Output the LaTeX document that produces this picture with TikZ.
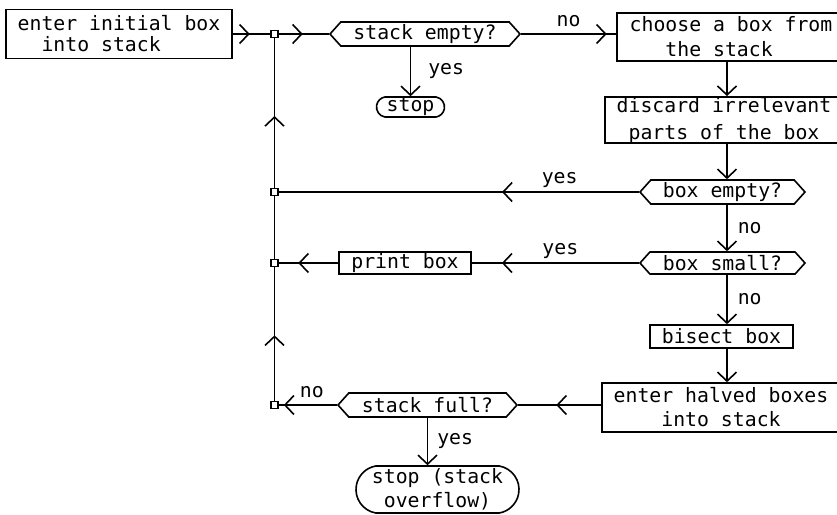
\documentclass[tikz,border=0pt]{standalone}
\usepackage{fontspec}
\setmonofont{DejaVu Sans Mono}
\usetikzlibrary{arrows.meta,shapes.misc,shapes.symbols,decorations.markings,positioning}

\tikzset{
  chev/.tip={Straight Barb[length=4.5pt,width=9.5pt]},
  arr/.style={-chev},
  midtip/.style={postaction={decorate},
    decoration={markings, mark=at position #1 with {\arrow{chev}}}},
  txt/.style={font=\ttfamily\fontsize{9.9}{12}\selectfont},
  proc/.style={txt, draw, inner sep=0pt, align=center},
  decide/.style={txt, draw, inner sep=0pt, signal, signal to=west and east,
    signal pointer angle=96},
  terminal/.style={txt, draw, inner sep=0pt, align=center, rounded rectangle,
    rounded rectangle arc length=160},
  junc/.style={draw, fill=white, line width=0.6pt, minimum size=3.5pt, inner sep=0pt},
  lbl/.style={txt, inner sep=1pt},
}

\begin{document}
\begin{tikzpicture}[x=0.5pt, y=-0.5pt, line width=0.8pt]

  % --- page ---
  \fill[white] (0,0) rectangle (837,515);
  \useasboundingbox (0,0) rectangle (837,515);

  % --- boxes ---
  \node[proc, align=left, minimum width=113pt, minimum height=24.5pt] (init) at (119,34)
    {enter initial box\\[-1.5pt]\phantom{xx}into stack};
  \node[decide, minimum width=95pt, minimum height=12pt] (sempty) at (425,34) {stack empty?};
  \node[terminal, minimum width=34pt, minimum height=10pt] (stop) at (410.5,107) {stop};
  \node[proc, align=left, minimum width=114pt, minimum height=24pt] (choose) at (731,37)
    {choose a box from\\[0.5pt]\phantom{xxx}the stack};
  \node[proc, minimum width=119pt, minimum height=23pt] (discard) at (724,120)
    {discard irrelevant\\[1.5pt]parts of the box};
  \node[decide, minimum width=82.5pt, minimum height=12pt] (bempty) at (722.5,192) {box empty?};
  \node[decide, minimum width=82.5pt, minimum height=11pt] (bsmall) at (722.5,263) {box small?};
  \node[proc, minimum width=66pt, minimum height=11pt] (print) at (405,263) {print box};
  \node[proc, minimum width=71.5pt, minimum height=11.5pt] (bisect) at (721.5,336.5) {bisect box};
  \node[proc, minimum width=119pt, minimum height=24.5pt] (halved) at (721,407.5)
    {enter halved boxes\\into stack};
  \node[decide, minimum width=89.5pt, minimum height=12pt] (sfull) at (427.5,405) {stack full?};
  \node[terminal, minimum width=81.5pt, minimum height=23.5pt] (sover) at (437.5,489.5)
    {stop (stack\\overflow)};

  % --- junctions on the return line ---
  \node[junc] (j1) at (274.5,34) {};
  \node[junc] (j2) at (274.5,192) {};
  \node[junc] (j3) at (274.5,263) {};
  \node[junc] (j4) at (274.5,405) {};
  \coordinate (spine) at (727,0);

  % --- main path ---
  \draw[midtip=0.45] (init.east) -- (j1);
  \draw[midtip=0.48] (j1) -- (sempty);
  \draw[midtip=0.9] (sempty.east) -- (sempty.east -| choose.west)
    node[lbl, pos=0.5, above=2pt] {no};
  \draw[arr] (stop.north |- sempty.south) -- (stop.north)
    node[lbl, midway, right=7.5pt] {yes};
  \draw[arr] (choose.south -| spine) -- (discard.north -| spine);
  \draw[arr] (discard.south -| spine) -- (bempty.north -| spine);
  \draw[arr] (bempty.south -| spine) -- (bsmall.north -| spine)
    node[lbl, midway, right=4pt] {no};
  \draw[arr] (bsmall.south -| spine) -- (bisect.north -| spine)
    node[lbl, midway, right=4pt] {no};
  \draw[arr] (bisect.south -| spine) -- (halved.north -| spine);

  % --- back to the stack ---
  \draw[midtip=0.38] (bempty.west) -- (j2) node[lbl, pos=0.22, above=1pt] {yes};
  \draw[midtip=0.82] (bsmall.west) -- (print.east) node[lbl, pos=0.47, above=1pt] {yes};
  \draw[midtip=0.67] (print.west) -- (j3);
  \draw[midtip=0.54] (sfull.east -| halved.west) -- (sfull.east);
  \draw[midtip=0.91] (sfull.west) -- (j4) node[lbl, pos=0.43, above=2pt] {no};
  \draw[arr] (sfull.south) -- (sfull.south |- sover.north)
    node[lbl, midway, right=3.5pt] {yes};

  % --- return line ---
  \draw[midtip=0.49] (j4) -- (j3);
  \draw (j3) -- (j2);
  \draw[midtip=0.48] (j2) -- (j1);

\end{tikzpicture}
\end{document}
